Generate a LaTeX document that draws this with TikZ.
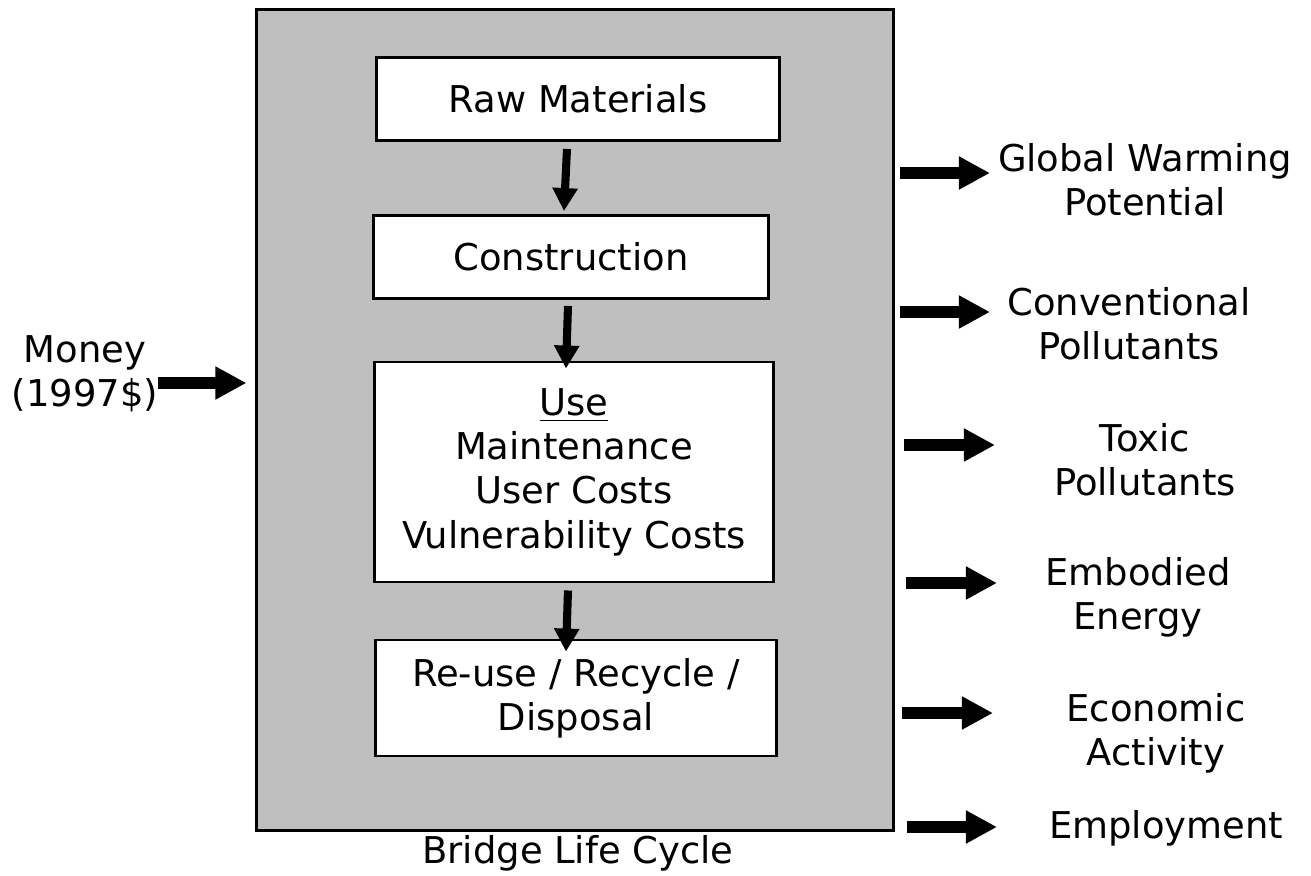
\documentclass[tikz,border=0pt]{standalone}
\usepackage{fontspec}
\setmainfont{DejaVu Sans}
\usetikzlibrary{arrows.meta}

\tikzset{
  txt/.style={font=\fontsize{10.5}{12.6}\selectfont, align=center, inner sep=0pt},
  stage/.style={txt, draw=black, line width=0.8pt, fill=white},
  flow/.style={line width=2.3pt, -{Triangle[length=0.23cm,width=0.24cm]}},
  outflow/.style={line width=3.2pt, -{Triangle[length=0.31cm,width=0.31cm]}}
}

\begin{document}
\begin{tikzpicture}[x=0.01cm,y=-0.01cm]
   \useasboundingbox (0,0) rectangle (1311,875);

   % the life cycle box
   \node[draw=black, line width=0.8pt, fill=black!25, minimum width=6.36cm,
         minimum height=8.2cm, inner sep=0pt] (cycle) at (575,420) {};
   \node[txt] (cyclename) at (578,853) {Bridge Life Cycle};

   % stages
   \node[stage, minimum width=4.03cm, minimum height=0.83cm] (raw) at (578,99) {Raw Materials};
   \node[stage, minimum width=3.95cm, minimum height=0.83cm] (cons) at (571,257) {Construction};
   \node[stage, minimum width=3.99cm, minimum height=2.2cm] (use) at (574,472)
     {\underline{Use}\\ Maintenance\\ User Costs\\ Vulnerability Costs};
   \node[stage, minimum width=4.0cm, minimum height=1.16cm] (reuse) at (576,698)
     {Re-use / Recycle /\\ Disposal};

   \draw[flow] ([xshift=-0.11cm,yshift=-0.07cm]raw.south) -- ([xshift=-0.07cm,yshift=0.03cm]cons.north);
   \draw[flow] ([xshift=-0.03cm,yshift=-0.06cm]cons.south) -- ([xshift=-0.08cm,yshift=-0.08cm]use.north);
   \draw[flow] ([xshift=-0.06cm,yshift=-0.07cm]use.south) -- ([xshift=-0.10cm,yshift=-0.13cm]reuse.north);

   % input
   \node[txt] (money) at (85,374) {Money\\ (1997\$)};
   \coordinate (moneyin) at (158,383);
   \draw[outflow, shorten >=0.09cm] (moneyin) -- (moneyin -| cycle.west);

   % outputs
   \node[txt] (gwp) at (1145,180) {Global Warming\\ Potential};
   \node[txt] (conv) at (1129,324) {Conventional\\ Pollutants};
   \node[txt] (toxic) at (1145,460) {Toxic\\ Pollutants};
   \node[txt] (energy) at (1138,597) {Embodied\\ Energy};
   \node[txt] (econ) at (1156,733) {Economic\\ Activity};
   \node[txt] (jobs) at (1166,828) {Employment};

   \coordinate (gwpout) at (900,173);
   \coordinate (convout) at (900,312);
   \coordinate (toxicout) at (904,445);
   \coordinate (energyout) at (906,583);
   \coordinate (econout) at (902,713);
   \coordinate (jobsout) at (907,827);
   \draw[outflow] (gwpout) -- ++(90,0);
   \draw[outflow] (convout) -- ++(90,0);
   \draw[outflow] (toxicout) -- ++(91,0);
   \draw[outflow] (energyout) -- ++(91,0);
   \draw[outflow] (econout) -- ++(91,0);
   \draw[outflow] (jobsout) -- ++(90,0);

 \end{tikzpicture}
\end{document}
